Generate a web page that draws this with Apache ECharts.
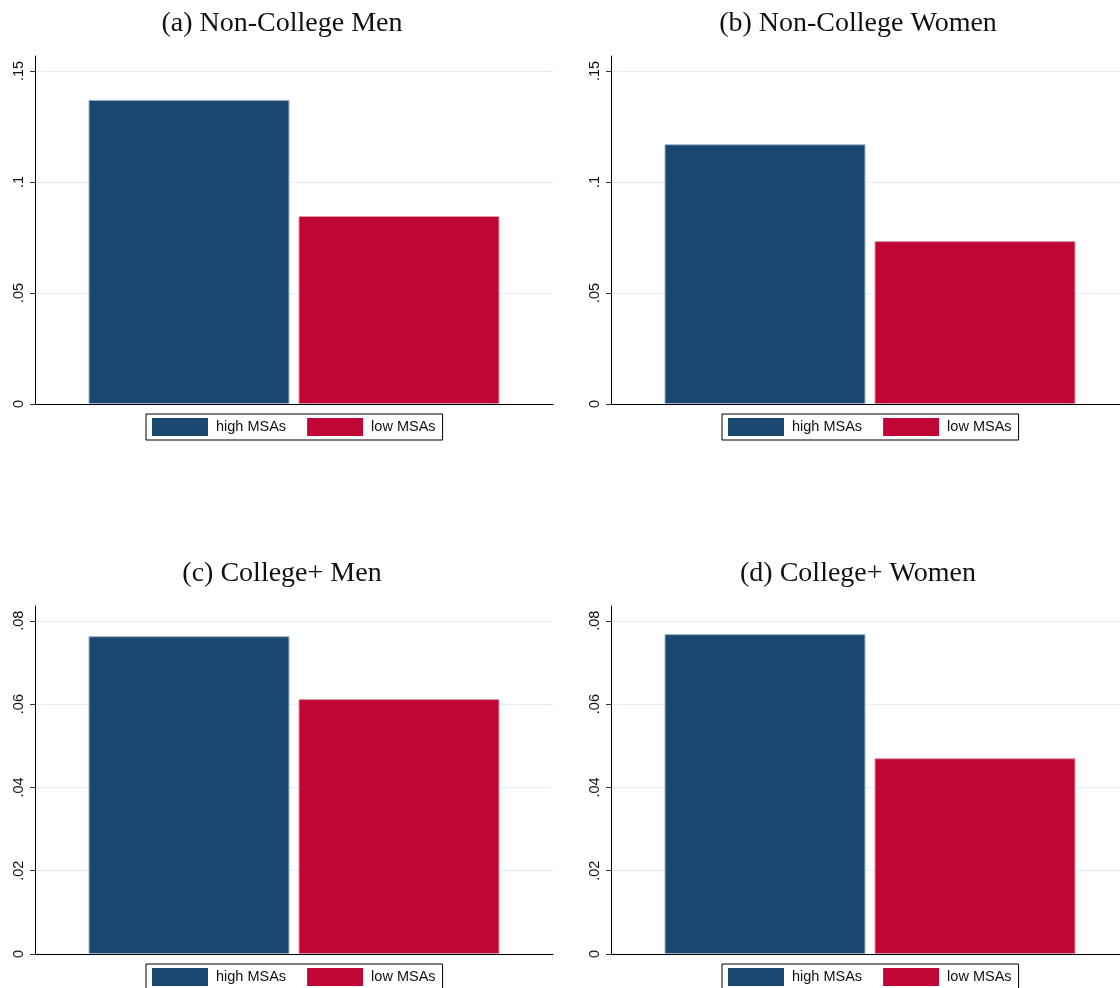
<!DOCTYPE html>
<html>
<head>
<meta charset="utf-8">
<script src="https://cdn.jsdelivr.net/npm/echarts@6/dist/echarts.min.js"></script>
<style>
  html, body { margin: 0; padding: 0; background: #ffffff; }
  #chart { width: 1120px; height: 988px; }
</style>
</head>
<body>
<div id="chart"></div>
<script>
// Share of each group, by metro-area type
const categories = [''];
const seriesNames = ['high MSAs', 'low MSAs'];
const panelTitles = ['(a) Non-College Men', '(b) Non-College Women', '(c) College+ Men', '(d) College+ Women'];
const highMSAs = [0.137, 0.117, 0.0763, 0.0768];
const lowMSAs = [0.0847, 0.0734, 0.0612, 0.047];
const yTicksNonCollege = [0, 0.05, 0.1, 0.15];
const yTicksCollege = [0, 0.02, 0.04, 0.06, 0.08];
const yTicks = [yTicksNonCollege, yTicksNonCollege, yTicksCollege, yTicksCollege];
const yMax = [0.15676, 0.15676, 0.08355, 0.08355];

const BLUE = '#1a476f';
const RED = '#c10534';
const SANS = '"Liberation Sans", Arial, Helvetica, sans-serif';
const SERIF = '"Liberation Serif", "Times New Roman", serif';

// panel geometry: [plot left, plot top, title centre x, title top, legend left, legend top]
const layout = [
  [35, 56, 282, 10, 146, 414],
  [611, 56, 858, 10, 722, 414],
  [35, 606, 282, 560, 146, 964],
  [611, 606, 858, 560, 722, 964]
];
const plotW = 518, plotH = 348;

function tickText(v) {
  if (v === 0) return '0';
  return String(+v.toFixed(4)).replace(/^0/, '');
}

const grids = [], xAxes = [], yAxes = [], titles = [], legends = [], series = [];

panelTitles.forEach((t, i) => {
  const [gl, gt, tx, tt, ll, lt] = layout[i];
  grids.push({ left: gl, top: gt, width: plotW, height: plotH, containLabel: false, outerBoundsMode: 'none' });
  titles.push({
    text: t, left: tx, top: tt, textAlign: 'center', padding: 0,
    textStyle: { fontFamily: SERIF, fontSize: 28, fontWeight: 'normal', color: '#111' }
  });
  xAxes.push({
    type: 'category', gridIndex: i, data: categories,
    axisLine: { show: true, lineStyle: { color: '#000', width: 1 } },
    axisTick: { show: false }, axisLabel: { show: false }, splitLine: { show: false }
  });
  yAxes.push({
    type: 'value', gridIndex: i, min: 0, max: yMax[i],
    axisLine: { show: true, lineStyle: { color: '#000', width: 1 } },
    axisTick: { show: true, length: 5, customValues: yTicks[i], lineStyle: { color: '#333' } },
    axisLabel: {
      customValues: yTicks[i], rotate: 90, margin: 9,
      fontFamily: SANS, fontSize: 14.5, color: '#111',
      formatter: tickText
    },
    splitLine: {
      show: true,
      lineStyle: { color: ['#e6eff2', '#e6eff2', '#e6eff2', '#e6eff2', '#e6eff2', 'rgba(0,0,0,0)'], width: 1.3 }
    }
  });
  legends.push({
    data: seriesNames, left: ll, top: lt, orient: 'horizontal',
    icon: 'rect', itemWidth: 56, itemHeight: 18, itemGap: 21,
    padding: [4, 7, 4, 6], borderColor: '#000', borderWidth: 1, borderRadius: 0,
    backgroundColor: '#fff', selectedMode: false,
    itemStyle: { borderWidth: 0 },
    textStyle: { fontFamily: SANS, fontSize: 14.5, color: '#111', padding: [0, 0, 0, 3] }
  });
  series.push({
    name: seriesNames[0], type: 'bar', xAxisIndex: i, yAxisIndex: i,
    data: [highMSAs[i]], barWidth: 201, barGap: '4.48%',
    itemStyle: { color: BLUE, borderColor: '#9fb4c8', borderWidth: 1 },
    silent: true, animation: false
  });
  series.push({
    name: seriesNames[1], type: 'bar', xAxisIndex: i, yAxisIndex: i,
    data: [lowMSAs[i]], barWidth: 201, barGap: '4.48%',
    itemStyle: { color: RED, borderColor: '#d89aa6', borderWidth: 1 },
    silent: true, animation: false
  });
});

const chart = echarts.init(document.getElementById('chart'), null, { renderer: 'canvas' });
chart.setOption({
  backgroundColor: '#ffffff',
  animation: false,
  title: titles,
  legend: legends,
  grid: grids,
  xAxis: xAxes,
  yAxis: yAxes,
  series: series
});
</script>
</body>
</html>
